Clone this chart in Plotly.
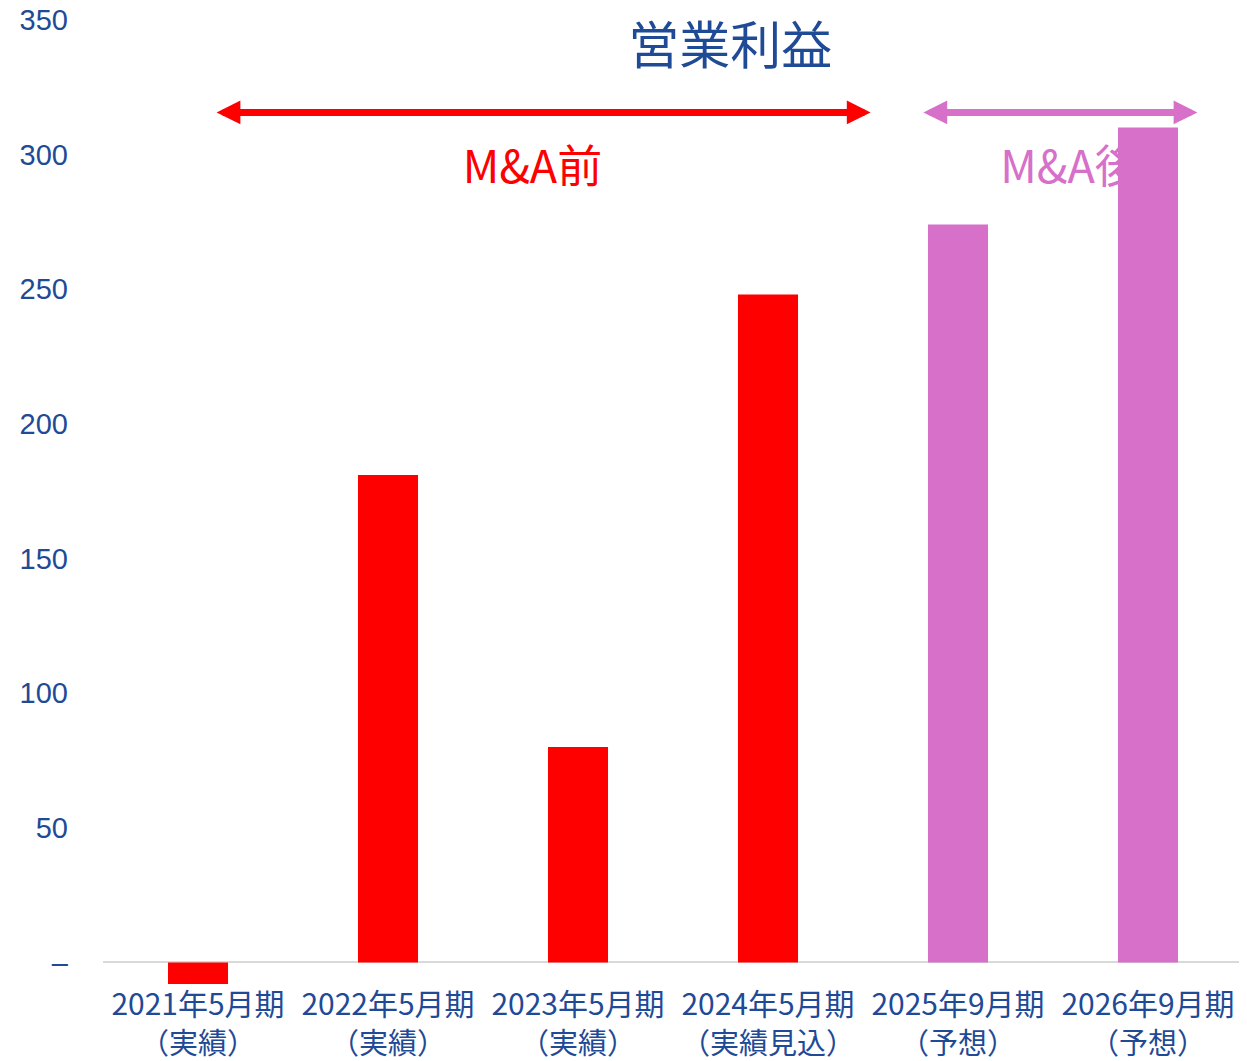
import plotly.graph_objects as go

# 営業利益（百万円）
periods = ["2021年5月期", "2022年5月期", "2023年5月期", "2024年5月期", "2025年9月期", "2026年9月期"]
status = ["（実績）", "（実績）", "（実績）", "（実績見込）", "（予想）", "（予想）"]
operating_profit = [-8, 181, 80, 248, 274, 310]
phase = ["前", "前", "前", "前", "後", "後"]

y_tickvals = [0, 50, 100, 150, 200, 250, 300, 350]
y_ticktext = ["–", "50", "100", "150", "200", "250", "300", "350"]

BLUE = "#1F4A96"
RED = "#FF0000"
PINK = "#D670C9"
FONT = "Noto Sans CJK JP"

phase_colors = {"前": RED, "後": PINK}

fig = go.Figure()

fig.add_trace(
    go.Bar(
        x=periods,
        y=operating_profit,
        marker=dict(color=[phase_colors[p] for p in phase], line=dict(width=0)),
        customdata=status,
        hovertemplate="%{x}%{customdata}: %{y}<extra></extra>",
    )
)

# 2行目のラベル（実績・予想など）
for period, s in zip(periods, status):
    fig.add_annotation(
        x=period, y=0, xref="x", yref="paper",
        text=s, showarrow=False,
        yanchor="middle", yshift=-57,
        font=dict(size=29, color=BLUE, family=FONT),
    )

# 期間の矢印（M&A前 / M&A後）
arrows = [
    (0.09, 3.54, RED),
    (3.81, 5.26, PINK),
]
for x0, x1, color in arrows:
    fig.add_annotation(
        x=x1, y=315.6, ax=x0, ay=315.6,
        xref="x", yref="y", axref="x", ayref="y",
        text="", showarrow=True,
        arrowhead=2, startarrowhead=2, arrowside="end+start",
        arrowsize=0.68, startarrowsize=0.68,
        arrowwidth=7, arrowcolor=color,
        standoff=0, startstandoff=0,
    )

# ラベルは棒の下に描く（M&A後 は2026年の棒に隠れる）
for text, xc, color in [("M&A前", 1.76, RED), ("M&A後", 4.59, PINK)]:
    fig.add_shape(
        type="rect", xref="x", yref="y",
        x0=xc - 0.6, x1=xc + 0.6, y0=284, y1=304,
        line=dict(width=0), fillcolor="rgba(0,0,0,0)",
        layer="below",
        label=dict(text=text, font=dict(size=45, color=color, family=FONT),
                   textposition="middle center"),
    )

fig.update_layout(
    width=1239,
    height=1053,
    margin=dict(l=95, r=4, t=11, b=77),
    paper_bgcolor="white",
    plot_bgcolor="white",
    showlegend=False,
    bargap=0.684,
    font=dict(family=FONT, color=BLUE),
    title=dict(
        text="営業利益",
        x=0.583, xanchor="center",
        y=1 - 38 / 1053, yanchor="middle",
        font=dict(size=51, color=BLUE, family=FONT),
    ),
    xaxis=dict(
        showgrid=False,
        showline=False,
        ticks="",
        tickfont=dict(size=30, color=BLUE, family=FONT),
        automargin=False,
    ),
    yaxis=dict(
        range=[-8, 350.3],
        tickvals=y_tickvals,
        ticktext=y_ticktext,
        showgrid=False,
        showline=False,
        zeroline=True,
        zerolinecolor="#D9D9D9",
        zerolinewidth=2,
        ticks="",
        ticklabelstandoff=34,
        ticklabeloverflow="allow",
        tickfont=dict(size=29, color=BLUE, family="Liberation Sans"),
        automargin=False,
    ),
)

fig.write_html("out.html")
